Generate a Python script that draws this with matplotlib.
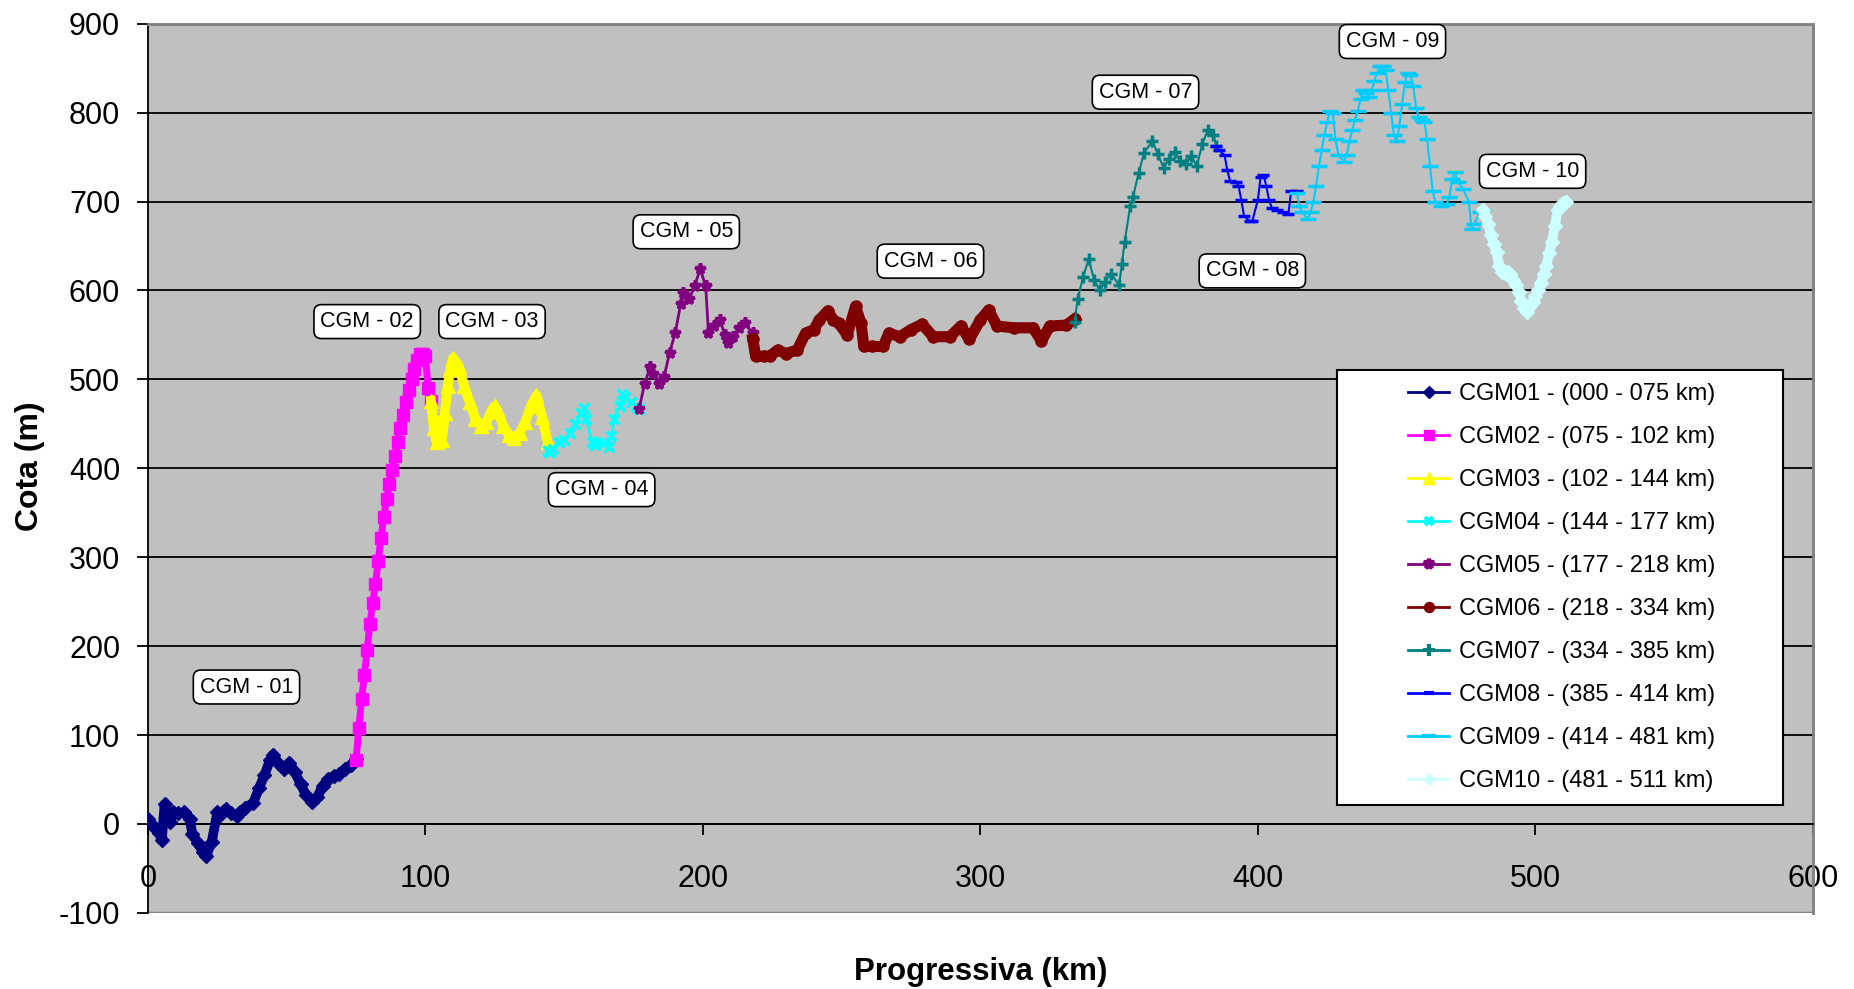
import matplotlib
matplotlib.use("Agg")
import matplotlib.pyplot as plt
from matplotlib.lines import Line2D
from matplotlib.patches import Rectangle

plt.rcParams['font.family'] = ['Liberation Sans', 'DejaVu Sans']
plt.rcParams['axes.unicode_minus'] = False

# dados (km, cota)
km_01 = [0, 2, 4, 5, 6, 7, 8, 9, 11, 13, 15, 16, 18, 20, 21, 23, 25, 26, 28, 30, 32, 33, 35, 38,
         40, 42, 44, 45, 47, 49, 51, 53, 55, 57, 59, 61, 63, 65, 67, 69, 71, 73, 75]
cota_01 = [5, -2, -10, -18, 22, 10, 2, 13, 12, 13, 6, -11, -22, -32, -36, -20, 13, 10, 17, 12, 9,
           13, 18, 24, 40, 55, 72, 78, 68, 62, 69, 58, 45, 32, 25, 30, 43, 50, 54, 56, 62, 66, 73]

km_02 = [75, 76, 77, 78, 79, 80, 81, 82, 83, 84, 85, 86, 87, 88, 89, 90, 91, 92, 93, 94, 95, 96,
         97, 98, 99, 100, 101, 102]
cota_02 = [72, 108, 140, 168, 196, 225, 248, 270, 296, 322, 345, 365, 382, 398, 414, 430, 445, 460,
           474, 488, 500, 512, 522, 528, 528, 526, 490, 476]

km_03 = [102, 103, 104, 105, 106, 107, 108, 109, 110, 112, 114, 116, 118, 120, 122, 124, 125, 126,
         128, 130, 132, 134, 136, 138, 140, 142, 144]
cota_03 = [476, 445, 430, 452, 432, 462, 492, 512, 524, 515, 492, 474, 456, 448, 452, 466, 470, 464,
           448, 438, 434, 440, 452, 470, 482, 458, 430]

km_04 = [144, 145, 146, 148, 150, 152, 154, 156, 157, 158, 160, 161, 162, 164, 166, 167, 168, 170,
         171, 172, 174, 176, 177]
cota_04 = [420, 418, 422, 430, 432, 440, 450, 462, 468, 455, 430, 426, 430, 428, 424, 436, 456, 470,
           484, 480, 474, 470, 467]

km_05 = [177, 179, 181, 182, 184, 186, 188, 190, 192, 193, 195, 197, 199, 201, 202, 204, 206, 208,
         209, 211, 213, 215, 218]
cota_05 = [467, 495, 514, 506, 495, 503, 530, 552, 585, 597, 590, 605, 624, 605, 552, 560, 567, 550,
           541, 548, 558, 563, 552]

km_06 = [218, 219, 222, 224, 227, 230, 234, 237, 240, 242, 245, 247, 249, 252, 255, 257, 258, 261,
         265, 267, 271, 275, 279, 283, 289, 293, 296, 300, 303, 306, 312, 319, 322, 325, 331, 334]
cota_06 = [545, 526, 526, 526, 533, 529, 533, 552, 556, 567, 577, 567, 563, 550, 582, 563, 537, 537,
           537, 552, 548, 556, 562, 548, 548, 560, 545, 567, 578, 560, 558, 558, 543, 560, 561, 568]

km_07 = [334, 335, 337, 339, 341, 343, 345, 347, 350, 351, 352, 354, 355, 357, 359, 362, 364, 366,
         368, 370, 372, 374, 376, 378, 380, 382, 384, 385]
cota_07 = [565, 590, 615, 635, 612, 600, 610, 619, 606, 630, 655, 695, 705, 732, 755, 768, 753, 738,
           748, 756, 746, 742, 751, 740, 765, 781, 775, 762]

km_08 = [385, 386, 388, 389, 390, 392, 393, 394, 395, 397, 398, 400, 401, 402, 403, 404, 405, 407,
         409, 411, 412, 414]
cota_08 = [762, 758, 752, 735, 723, 722, 718, 702, 684, 678, 678, 702, 728, 730, 718, 702, 693, 690,
           688, 686, 712, 712]

km_09 = [414, 415, 416, 418, 419, 420, 421, 422, 423, 424, 425, 426, 427, 428, 429, 431, 432, 433,
         434, 435, 436, 437, 438, 439, 440, 441, 442, 443, 444, 445, 446, 447, 448, 449, 450, 451,
         452, 453, 454, 455, 456, 457, 458, 459, 460, 461, 462, 463, 464, 466, 468, 469, 470, 471,
         472, 474, 476, 477, 478, 480, 481]
cota_09 = [710, 695, 688, 680, 688, 700, 718, 740, 758, 775, 790, 802, 800, 770, 752, 745, 752, 768,
           780, 792, 802, 815, 825, 822, 818, 825, 836, 845, 852, 852, 848, 826, 800, 775, 768, 785,
           810, 835, 845, 842, 830, 805, 795, 792, 790, 770, 740, 712, 699, 695, 697, 705, 725, 733,
           722, 714, 700, 669, 675, 688, 690]

km_10 = [481, 482, 483, 484, 485, 486, 487, 488, 489, 490, 491, 492, 493, 494, 495, 496, 497, 498,
         499, 500, 501, 502, 503, 504, 505, 506, 507, 508, 509, 510, 511]
cota_10 = [690, 684, 675, 662, 652, 643, 628, 621, 620, 621, 618, 612, 606, 598, 588, 580, 576, 582,
           587, 594, 600, 608, 618, 628, 642, 655, 672, 690, 695, 698, 700]

nomes = ['CGM01 - (000 - 075 km)', 'CGM02 - (075 - 102 km)', 'CGM03 - (102 - 144 km)',
         'CGM04 - (144 - 177 km)', 'CGM05 - (177 - 218 km)', 'CGM06 - (218 - 334 km)',
         'CGM07 - (334 - 385 km)', 'CGM08 - (385 - 414 km)', 'CGM09 - (414 - 481 km)',
         'CGM10 - (481 - 511 km)']
rotulos = ['CGM - 01', 'CGM - 02', 'CGM - 03', 'CGM - 04', 'CGM - 05', 'CGM - 06', 'CGM - 07',
           'CGM - 08', 'CGM - 09', 'CGM - 10']

series = [(km_01, cota_01), (km_02, cota_02), (km_03, cota_03), (km_04, cota_04), (km_05, cota_05),
          (km_06, cota_06), (km_07, cota_07), (km_08, cota_08), (km_09, cota_09), (km_10, cota_10)]

cores = ['#000080', '#FF00FF', '#FFFF00', '#00FFFF', '#800080', '#800000', '#008080', '#0000FF',
         '#00CCFF', '#CCFFFF']
marcadores = ['D', 's', '^', 'x', '*', 'o', '+', '_', '_', 'D']
# espessura da "faixa" (series com pontos muito densos)
larg_linha = [7, 5, 7, 2, 2, 8, 1.5, 1.5, 1.5, 7]
tam_marc = [7, 8, 10, 7, 8, 8, 9, 8, 11, 7]

fig = plt.figure(figsize=(18.54, 9.89), dpi=100)
ax = fig.add_axes([0.0798, 0.077, 0.898, 0.899])
ax.set_facecolor('#C0C0C0')

for (x, y), c, m, lw, ms in zip(series, cores, marcadores, larg_linha, tam_marc):
    mew = 2.5 if m in ('x', '*', '+', '_') else 1
    ax.plot(x, y, color=c, linewidth=lw, marker=m, markersize=ms, markeredgecolor=c,
            markerfacecolor=c, markeredgewidth=mew, solid_joinstyle='round', zorder=3)

# rótulos dos trechos
pos_rotulos = [(35.5, 154), (79, 565), (124, 565), (163.5, 376), (194, 666), (282, 633),
               (359.5, 823), (398, 622), (448.5, 880), (499, 734)]
for txt, (px, py) in zip(rotulos, pos_rotulos):
    ax.text(px, py, txt, fontsize=15.5, ha='center', va='center', zorder=5,
            bbox=dict(boxstyle='round,pad=0.3,rounding_size=0.35', fc='white', ec='black', lw=1.2))

ax.set_xlim(0, 600)
ax.set_ylim(-100, 900)
ax.set_xticks(range(0, 601, 100))
ax.set_yticks(range(-100, 901, 100))
ax.yaxis.grid(True, color='black', linewidth=1.3)
ax.set_axisbelow(True)
ax.axhline(-100, color='#808080', linewidth=2.5, zorder=2)

ax.spines['bottom'].set_position(('data', 0))
ax.spines['bottom'].set_linewidth(1.3)
ax.spines['left'].set_linewidth(1.3)
ax.spines['top'].set_color('#808080')
ax.spines['top'].set_linewidth(2)
ax.spines['right'].set_color('#808080')
ax.spines['right'].set_linewidth(2)
ax.tick_params(axis='both', direction='out', length=8, width=1.3, labelsize=22)
ax.tick_params(axis='y', pad=12)
ax.tick_params(axis='x', pad=21)

# títulos dos eixos
fig.text(0.529, 0.017, 'Progressiva (km)', fontsize=22.5, fontweight='bold', ha='center', va='center')
fig.text(0.016, 0.529, 'Cota (m)', fontsize=23, fontweight='bold', ha='center', va='center',
         rotation=90)

# caixa da legenda
ax.add_patch(Rectangle((0.714, 0.121), 0.268, 0.4895, transform=ax.transAxes, facecolor='white',
                       edgecolor='black', linewidth=1.5, zorder=6))
handles = [Line2D([0], [0], color=c, linewidth=2, marker=m, markersize=ms * 0.9,
                  markerfacecolor=c, markeredgecolor=c,
                  markeredgewidth=3 if m in ('x', '*', '+', '_') else 1)
           for c, m, ms in zip(cores, marcadores, tam_marc)]
leg = ax.legend(handles, nomes, loc='center', bbox_to_anchor=(0.849, 0.366), fontsize=17,
                frameon=False, labelspacing=0.89, handlelength=1.75, handletextpad=0.4,
                borderpad=0, borderaxespad=0)
leg.set_zorder(7)

fig.savefig('out.png', dpi=100)
